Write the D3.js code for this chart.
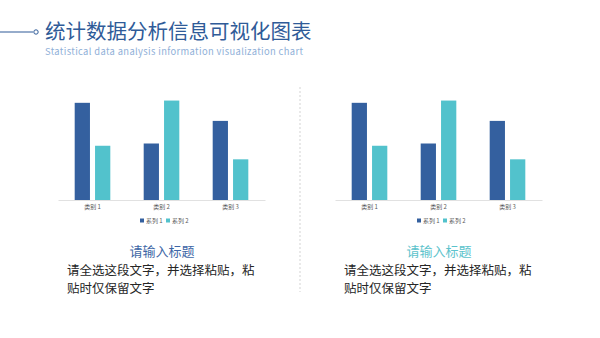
<!DOCTYPE html>
<html>
<head>
<meta charset="utf-8">
<script src="https://cdn.jsdelivr.net/npm/d3@7/dist/d3.min.js"></script>
<style>
  html, body { margin: 0; padding: 0; background: #fff; }
  svg { display: block; }
  text { font-family: "Noto Sans CJK SC", "Noto Sans", sans-serif; }
</style>
</head>
<body>
<svg id="chart" width="600" height="338"></svg>
<script>
// Chart data
const categories = ["类别 1", "类别 2", "类别 3"];
const seriesNames = ["系列 1", "系列 2"];
const series1 = [4.3, 2.5, 3.5];
const series2 = [2.4, 4.4, 1.8];
const yTicks = [0, 1, 2, 3, 4, 5];

const titleText = "统计数据分析信息可视化图表";
const subtitleText = "Statistical data analysis information visualization chart";
const panelTitle = "请输入标题";
const panelBody = ["请全选这段文字，并选择粘贴，粘", "贴时仅保留文字"];

const colors = ["#34609f", "#52c2cc"];

const svg = d3.select("#chart");

// Header: rule with a small ring, then title and subtitle
svg.append("line").attr("x1", 0).attr("x2", 33).attr("y1", 32).attr("y2", 32)
  .attr("stroke", "#2f5b98").attr("stroke-width", 1.2);
svg.append("circle").attr("cx", 36).attr("cy", 32).attr("r", 2.2)
  .attr("fill", "#fff").attr("stroke", "#2f5b98").attr("stroke-width", 1);
svg.append("text").attr("x", 45).attr("y", 39).text(titleText)
  .attr("font-size", 20.5).attr("fill", "#2f5b98");
svg.append("text").attr("x", 45).attr("y", 55).text(subtitleText)
  .attr("font-family", "'Liberation Sans', Arial, sans-serif")
  .attr("font-size", 9.4).attr("fill", "#8fb0d8")
  .attr("textLength", 258).attr("lengthAdjust", "spacing");

// Dashed divider between the two panels
svg.append("line").attr("x1", 300).attr("x2", 300).attr("y1", 87).attr("y2", 292)
  .attr("stroke", "#c8c8c8").attr("stroke-width", 0.8).attr("stroke-dasharray", "2,2");

function drawPanel(offsetX, titleColor) {
  const g = svg.append("g").attr("transform", `translate(${offsetX},0)`);

  const x = d3.scaleBand().domain(categories).range([58, 265]).paddingInner(0).paddingOuter(0);
  const y = d3.scaleLinear().domain([0, d3.max(yTicks)]).range([200, 87]);

  const sub = d3.scaleBand().domain(seriesNames).range([0, x.bandwidth()]).paddingInner(0.25).paddingOuter(0.82);

  const rows = categories.map((c, i) => ({ c, vals: [series1[i], series2[i]] }));

  const grp = g.selectAll("g.cat").data(rows).join("g")
    .attr("transform", d => `translate(${x(d.c)},0)`);
  grp.selectAll("rect").data(d => d.vals.map((v, j) => ({ v, s: seriesNames[j], j })))
    .join("rect")
    .attr("x", d => sub(d.s))
    .attr("width", sub.bandwidth())
    .attr("y", d => y(d.v))
    .attr("height", d => y(0) - y(d.v))
    .attr("fill", d => colors[d.j]);

  // Category axis
  const axis = g.append("g").attr("transform", `translate(0,${y(0)})`)
    .call(d3.axisBottom(x).tickSize(0).tickPadding(5));
  axis.select(".domain").attr("stroke", "#d9d9d9").attr("stroke-width", 0.8);
  axis.selectAll("text").attr("font-size", 6).attr("fill", "#595959")
    .attr("font-family", "'Noto Sans CJK SC', sans-serif");

  // Legend
  const legend = g.append("g").attr("transform", "translate(162,221)");
  const items = [{ n: seriesNames[0], dx: -22 }, { n: seriesNames[1], dx: 4 }];
  items.forEach((it, j) => {
    legend.append("rect").attr("x", it.dx).attr("y", -2.5).attr("width", 4).attr("height", 4)
      .attr("fill", colors[j]);
    legend.append("text").attr("x", it.dx + 6).attr("y", 1.8).text(it.n)
      .attr("font-size", 6).attr("fill", "#595959");
  });

  // Panel caption and body text
  g.append("text").attr("x", 162).attr("y", 256).attr("text-anchor", "middle")
    .text(panelTitle).attr("font-size", 13).attr("fill", titleColor);
  panelBody.forEach((line, i) => {
    g.append("text").attr("x", 67).attr("y", 275 + i * 18).text(line)
      .attr("font-size", 12.5).attr("fill", "#262626");
  });
}

drawPanel(0, "#3d66a6");
drawPanel(277, "#5cc3cc");
</script>
</body>
</html>
